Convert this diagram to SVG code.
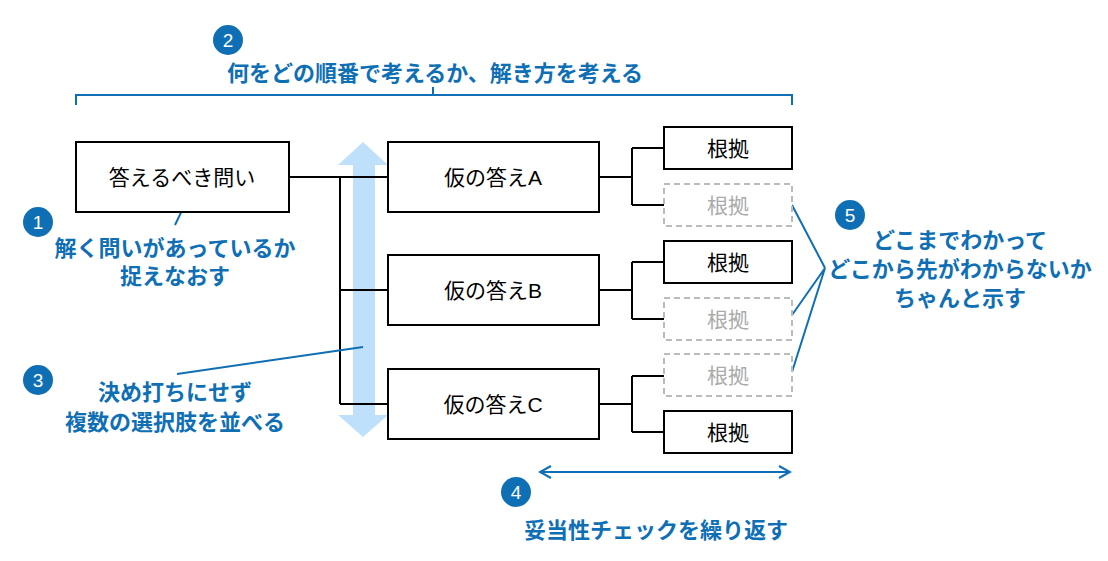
<svg xmlns="http://www.w3.org/2000/svg" width="1108" height="561" viewBox="0 0 1108 561">
<style>
.box{fill:#fff;stroke:#000;stroke-width:2}
.dash{fill:#fff;stroke:#bbb;stroke-width:2;stroke-dasharray:6 4}
.t{font-family:"Liberation Sans","Noto Sans CJK JP",sans-serif;font-size:21px;text-anchor:middle;dominant-baseline:central;fill:#000}
.g{fill:#aaa}
.b{font-family:"Liberation Sans","Noto Sans CJK JP",sans-serif;font-size:22px;font-weight:bold;text-anchor:middle;fill:#0f6fb5}
.n{font-family:"Liberation Sans",sans-serif;font-size:19px;text-anchor:middle;dominant-baseline:central;fill:#fff}
.c{fill:#0f6fb5}
.bl{stroke:#0f6fb5;stroke-width:2;fill:none}
.k{stroke:#000;stroke-width:2;fill:none}
</style>
<defs>
<marker id="ah" markerWidth="14" markerHeight="14" refX="12" refY="7" orient="auto-start-reverse" markerUnits="userSpaceOnUse"><path d="M1,1 L12,7 L1,13" fill="none" stroke="#0f6fb5" stroke-width="2"/></marker>
</defs>
<path d="M353,165 L338,165 L363,142 L388,165 L375,165 L375,415 L388,415 L363,437 L338,415 L353,415 Z" fill="#bfe0fb"/>
<g id="connectors">
<path class="k" d="M289,177 H340 M340,177 V404 M340,177 H388 M340,290 H388 M340,404 H388"/>
<path class="k" d="M599,177 H632 M632,148 V205 M632,148 H664 M632,205 H664"/>
<path class="k" d="M599,290 H632 M632,262 V319 M632,262 H664 M632,319 H664"/>
<path class="k" d="M599,404 H632 M632,376 V432 M632,376 H664 M632,432 H664"/>
<path class="bl" d="M188,198 L175,225 M177,374 L363,347 M825,268 L792,205 M825,268 L792,315 M825,268 L792,372"/>
<path class="bl" d="M76,105 V95 H433 V87 M433,95 H792 V105"/>
<line class="bl" x1="540" y1="472" x2="790" y2="472" marker-start="url(#ah)" marker-end="url(#ah)"/>
</g>
<g id="q"><rect class="box" x="76" y="142" width="213" height="70"/><text class="t" x="182" y="177">答えるべき問い</text></g>
<g id="a"><rect class="box" x="388" y="142" width="211" height="70"/><text class="t" x="493" y="177">仮の答えA</text></g>
<g id="b"><rect class="box" x="388" y="255" width="211" height="70"/><text class="t" x="493" y="290">仮の答えB</text></g>
<g id="c"><rect class="box" x="388" y="369" width="211" height="70"/><text class="t" x="493" y="404">仮の答えC</text></g>
<g id="e1"><rect class="box" x="664" y="127" width="128" height="42"/><text class="t" x="728" y="148">根拠</text></g>
<g id="e2"><rect class="dash" x="664" y="184" width="128" height="42"/><text class="t g" x="728" y="205">根拠</text></g>
<g id="e3"><rect class="box" x="664" y="241" width="128" height="42"/><text class="t" x="728" y="262">根拠</text></g>
<g id="e4"><rect class="dash" x="664" y="298" width="128" height="42"/><text class="t g" x="728" y="319">根拠</text></g>
<g id="e5"><rect class="dash" x="664" y="354" width="128" height="42"/><text class="t g" x="728" y="375">根拠</text></g>
<g id="e6"><rect class="box" x="664" y="411" width="128" height="42"/><text class="t" x="728" y="432">根拠</text></g>
<g id="n1"><circle class="c" cx="38" cy="222" r="15"/><text class="n" x="38" y="222">1</text>
<text class="b" x="175" y="256">解く問いがあっているか</text><text class="b" x="175" y="284">捉えなおす</text></g>
<g id="n2"><circle class="c" cx="228" cy="40" r="15"/><text class="n" x="228" y="40">2</text>
<text class="b" x="435" y="81">何をどの順番で考えるか、解き方を考える</text></g>
<g id="n3"><circle class="c" cx="38" cy="380" r="15"/><text class="n" x="38" y="380">3</text>
<text class="b" x="175" y="400">決め打ちにせず</text><text class="b" x="175" y="430">複数の選択肢を並べる</text></g>
<g id="n4"><circle class="c" cx="516" cy="492" r="15"/><text class="n" x="516" y="492">4</text>
<text class="b" x="656" y="538">妥当性チェックを繰り返す</text></g>
<g id="n5"><circle class="c" cx="850" cy="215" r="15"/><text class="n" x="850" y="215">5</text>
<text class="b" x="960" y="248">どこまでわかって</text><text class="b" x="960" y="277">どこから先がわからないか</text><text class="b" x="960" y="306">ちゃんと示す</text></g>
</svg>
